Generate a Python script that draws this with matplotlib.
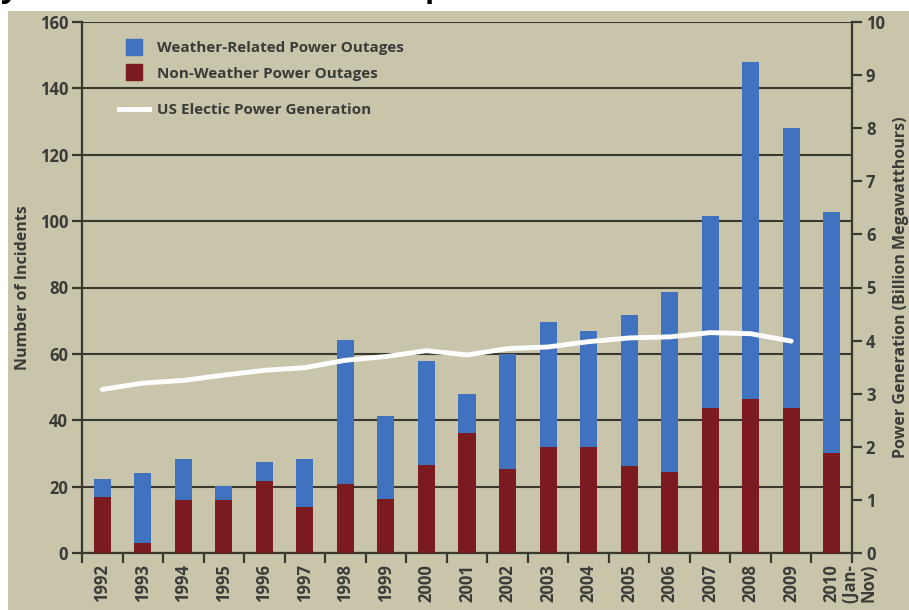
import matplotlib.pyplot as plt
import numpy as np
from matplotlib.patches import Rectangle
from matplotlib.lines import Line2D

years = ['1992', '1993', '1994', '1995', '1996', '1997', '1998', '1999', '2000',
         '2001', '2002', '2003', '2004', '2005', '2006', '2007', '2008', '2009',
         '2010\n(Jan-\nNov)']
# Non-weather outages (bottom part) and total height of bar
non_weather = [17, 3, 16, 16, 21.7, 14, 20.8, 16.4, 26.5,
               36.2, 25.3, 32, 32, 26.3, 24.5, 43.6, 46.4, 43.6, 30.1]
total = [22.2, 24, 28.3, 20.1, 27.4, 28.3, 64.1, 41.3, 57.8,
         47.8, 60.1, 69.7, 67, 71.7, 78.7, 101.6, 148, 128, 102.6]
weather = [t - n for t, n in zip(total, non_weather)]
# US electric power generation, billion MWh (1992-2009)
generation = [3.08, 3.20, 3.25, 3.35, 3.44, 3.49, 3.63, 3.70, 3.81,
              3.73, 3.85, 3.88, 3.98, 4.05, 4.07, 4.15, 4.13, 3.99]

BG = '#c8c5ab'
BLUE = '#4172bf'
RED = '#7b1a1f'
DARK = '#3a392f'
TXT = '#3b3b38'

plt.rcParams['font.family'] = ['Open Sans', 'DejaVu Sans']

fig = plt.figure(figsize=(9.09, 6.10), dpi=100, facecolor='white')
# tan panel behind the chart (screenshot crop leaves white strip on top/left)
fig.patches.append(Rectangle((8 / 909, 0), 1, 1 - 11 / 610, transform=fig.transFigure,
                             facecolor=BG, edgecolor='none', zorder=-10))
# cut-off title fragments at the very top
fig.text(0.0, 1.005, 'y', fontsize=22, fontweight='bold', color='black', va='baseline')
fig.text(425 / 909, 1.005, 'p', fontsize=22, fontweight='bold', color='black', va='baseline')

ax = fig.add_axes([82 / 909, 57 / 610, 770 / 909, 531 / 610])
ax.set_facecolor(BG)
x = np.arange(len(years))

ax.bar(x, non_weather, 0.42, color=RED, zorder=3)
ax.bar(x, weather, 0.42, bottom=non_weather, color=BLUE, zorder=3)

ax.set_xlim(-0.5, len(years) - 0.5)
ax.set_ylim(0, 160)
ax.set_yticks(np.arange(0, 161, 20))
ax.grid(True, axis='y', color=DARK, linewidth=1.5, zorder=1)
ax.set_axisbelow(True)

# year labels under the bars; the last one (3 lines) is placed by hand
ax.set_xticks(x)
ax.set_xticklabels(years[:-1] + [''], rotation=90, va='top', ha='center', fontsize=12,
                   fontweight='bold', color=TXT)
ax.annotate(years[-1], xy=(x[-1], 0), xycoords=('data', 'axes fraction'),
            xytext=(-7, -8), textcoords='offset points', rotation=90,
            ha='left', va='top', fontsize=12, fontweight='bold', color=TXT,
            multialignment='right', linespacing=1.05, annotation_clip=False)
ax.set_xticks(np.arange(-0.5, len(years), 1), minor=True)
ax.tick_params(axis='x', which='major', length=0, pad=8)
ax.tick_params(axis='x', which='minor', length=7, width=1.6, color=DARK, direction='out')
ax.tick_params(axis='y', length=7, width=1.6, color=DARK, labelsize=12, labelcolor=TXT, pad=3)
for lab in ax.get_yticklabels():
    lab.set_fontweight('bold')

for side in ['left', 'right', 'bottom']:
    ax.spines[side].set_color(DARK)
    ax.spines[side].set_linewidth(1.6)
ax.spines['top'].set_visible(False)

ax.set_ylabel('Number of Incidents', fontsize=11.5, fontweight='bold', color=TXT, labelpad=6)

ax2 = ax.twinx()
ax2.set_ylim(0, 10)
ax2.set_yticks(np.arange(0, 11, 1))
ax2.plot(x[:len(generation)], generation, color='white', linewidth=3.5,
         solid_capstyle='round', zorder=5)
ax2.tick_params(axis='y', length=7, width=1.6, color=DARK, labelsize=12, labelcolor=TXT, pad=3)
for lab in ax2.get_yticklabels():
    lab.set_fontweight('bold')
for sp in ax2.spines.values():
    sp.set_visible(False)
ax2.set_ylabel('Power Generation (Billion Megawatthours)', fontsize=11.5, fontweight='bold',
               color=TXT, labelpad=6)

bar_handles = [
    Line2D([], [], marker='s', linestyle='none', markersize=11, color=BLUE),
    Line2D([], [], marker='s', linestyle='none', markersize=11, color=RED),
]
leg1 = ax2.legend(bar_handles, ['Weather-Related Power Outages', 'Non-Weather Power Outages'],
                  loc='upper left', bbox_to_anchor=(0.03, 0.99),
                  frameon=False, handlelength=2.0, handletextpad=0.5, labelspacing=0.75,
                  prop={'size': 11, 'weight': 'bold'})
for t in leg1.get_texts():
    t.set_color(TXT)
ax2.add_artist(leg1)

leg2 = ax2.legend([Line2D([], [], color='white', linewidth=3.5)], ['US Electic Power Generation'],
                  loc='upper left', bbox_to_anchor=(0.03, 0.873),
                  frameon=False, handlelength=2.0, handletextpad=0.5,
                  prop={'size': 11, 'weight': 'bold'})
for t in leg2.get_texts():
    t.set_color(TXT)

fig.savefig('out.png', dpi=100, facecolor=fig.get_facecolor())
